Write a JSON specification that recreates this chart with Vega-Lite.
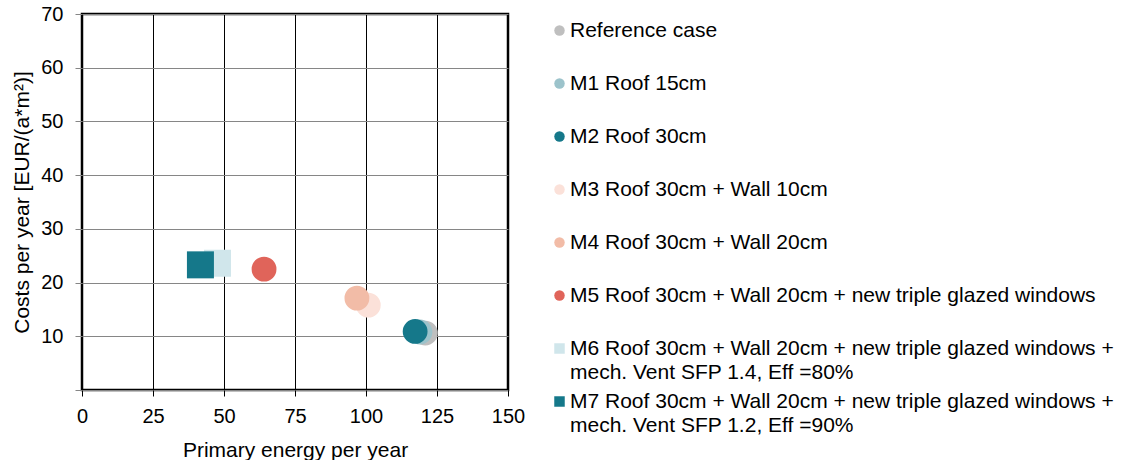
{
  "$schema": "https://vega.github.io/schema/vega-lite/v6.json",
  "width": 426,
  "height": 376,
  "padding": {"left": 11, "top": 4, "right": 0, "bottom": 0},
  "background": "white",
  "config": {
    "font": "Liberation Sans",
    "view": {"stroke": "#000000", "strokeWidth": 2.5},
    "axis": {
      "labelFont": "Liberation Sans",
      "labelFontSize": 20,
      "labelColor": "#000000",
      "titleFont": "Liberation Sans",
      "titleFontSize": 21,
      "titleFontWeight": "normal",
      "titleColor": "#000000",
      "domain": false
    },
    "legend": {
      "labelFont": "Liberation Sans",
      "labelFontSize": 21,
      "labelColor": "#000000",
      "labelLimit": 0,
      "gridAlign": "all",
      "rowPadding": 7,
      "padding": 6,
      "offset": 35,
      "labelOffset": 0,
      "symbolSize": 110,
      "symbolOpacity": 1,
      "symbolStrokeWidth": 0
    },
    "style": {"guide-label": {"lineHeight": 24}}
  },
  "data": {
    "values": [
      {"series": "Reference case", "energy": 120.9, "cost": 10.6},
      {"series": "M1 Roof 15cm", "energy": 119.0, "cost": 10.8},
      {"series": "M2 Roof 30cm", "energy": 117.3, "cost": 10.9},
      {"series": "M3 Roof 30cm + Wall 10cm", "energy": 100.8, "cost": 15.8},
      {"series": "M4 Roof 30cm + Wall 20cm", "energy": 96.8, "cost": 17.1},
      {"series": "M5 Roof 30cm + Wall 20cm + new triple glazed windows", "energy": 64.1, "cost": 22.5},
      {"series": "M6 Roof 30cm + Wall 20cm + new triple glazed windows + mech. Vent SFP 1.4, Eff =80%", "energy": 47.7, "cost": 23.6},
      {"series": "M7 Roof 30cm + Wall 20cm + new triple glazed windows + mech. Vent SFP 1.2, Eff =90%", "energy": 41.7, "cost": 23.3}
    ]
  },
  "mark": {"type": "point", "filled": true, "opacity": 1, "strokeWidth": 0},
  "encoding": {
    "x": {
      "field": "energy",
      "type": "quantitative",
      "scale": {"domain": [0, 150], "nice": false, "zero": true},
      "axis": {
        "title": "Primary energy per year",
        "values": [0, 25, 50, 75, 100, 125, 150],
        "grid": true,
        "gridColor": "#000000",
        "gridWidth": 1,
        "gridOpacity": 1,
        "tickColor": "#000000",
        "tickSize": 6,
        "labelPadding": 10,
        "titlePadding": 13,
        "labelFlush": false
      }
    },
    "y": {
      "field": "cost",
      "type": "quantitative",
      "scale": {"domain": [0, 70], "nice": false},
      "axis": {
        "title": "Costs per year [EUR/(a*m²)]",
        "values": [0, 10, 20, 30, 40, 50, 60, 70],
        "labelExpr": "datum.value == 0 ? '' : datum.label",
        "grid": true,
        "gridColor": "#868686",
        "gridWidth": 1,
        "gridOpacity": 1,
        "tickColor": "#868686",
        "tickSize": 7,
        "labelPadding": 12,
        "titlePadding": 8,
        "labelFlush": false
      }
    },
    "color": {
      "field": "series",
      "type": "nominal",
      "sort": null,
      "scale": {"range": ["#bfbfbf", "#9cc3cb", "#15788a", "#fbe1d9", "#f2bca7", "#e0645a", "#d0e6eb", "#15788a"]},
      "legend": {
        "title": null,
        "labelExpr": "split(replace(datum.label, '+ mech.', '+|mech.'), '|')"
      }
    },
    "shape": {
      "field": "series",
      "type": "nominal",
      "sort": null,
      "scale": {"range": ["circle", "circle", "circle", "circle", "circle", "circle", "square", "square"]},
      "legend": {
        "title": null,
        "labelExpr": "split(replace(datum.label, '+ mech.', '+|mech.'), '|')"
      }
    },
    "size": {
      "condition": {"test": "indexof(datum.series, 'mech.') >= 0", "value": 729},
      "value": 616
    }
  }
}
